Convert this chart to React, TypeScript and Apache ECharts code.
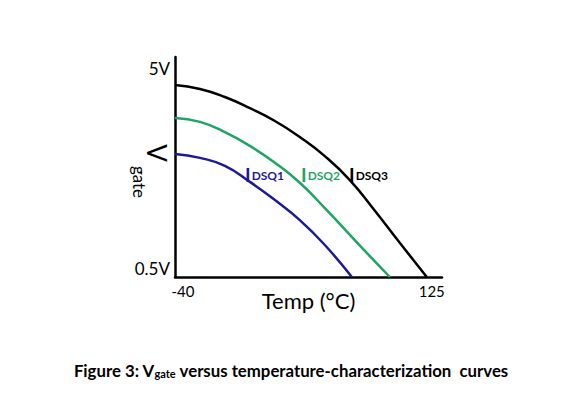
import React, { useEffect, useRef } from "react";
import * as echarts from "echarts";

// Temperature (°C) and gate voltage (V)
const tempsDSQ1 = [-40, -23.6, -7.3, 9.1, 25.5, 41.8, 58.2, 75.9];
const vgateDSQ1 = [3.27, 3.18, 3.0, 2.64, 2.23, 1.78, 1.22, 0.5];

const tempsDSQ2 = [-40, -23.6, -7.3, 9.1, 25.5, 41.8, 58.2, 74.6, 87.7, 100.8];
const vgateDSQ2 = [4.08, 3.99, 3.76, 3.45, 3.07, 2.62, 2.05, 1.45, 0.97, 0.5];

const tempsDSQ3 = [-40, -23.6, -7.3, 9.1, 25.5, 41.8, 58.2, 74.6, 91.0, 107.3, 125];
const vgateDSQ3 = [4.82, 4.73, 4.55, 4.3, 4.01, 3.65, 3.22, 2.68, 1.99, 1.27, 0.5];

const xTickValues = [-40, 125];
const yTickValues = [0.5, 5];

const seriesNames = ["DSQ1", "DSQ2", "DSQ3"];
const seriesColors = ["#1b1b96", "#1fa464", "#000000"];

const FONT = "Lato, 'Open Sans', sans-serif";

function pairs(xs: number[], ys: number[]) {
  return xs.map((x, i) => [x, ys[i]]);
}

export default function App() {
  const ref = useRef<HTMLDivElement>(null);

  useEffect(() => {
    if (!ref.current) return;
    const chart = echarts.init(ref.current, undefined, { renderer: "svg" });
    const datasets = [
      pairs(tempsDSQ1, vgateDSQ1),
      pairs(tempsDSQ2, vgateDSQ2),
      pairs(tempsDSQ3, vgateDSQ3),
    ];
    const labelPos = [
      [245, 174],
      [301, 174],
      [349, 174],
    ];
    chart.setOption({
      animation: false,
      backgroundColor: "#ffffff",
      grid: {
        left: 175,
        right: 131,
        top: 57,
        bottom: 121,
        containLabel: false,
        outerBoundsMode: "none",
      },
      xAxis: {
        type: "value",
        min: -40,
        max: 135,
        splitLine: { show: false },
        axisTick: { show: false },
        axisLine: { show: true, onZero: false, lineStyle: { color: "#000", width: 2.5 } },
        axisLabel: {
          customValues: xTickValues,
          margin: 6,
          color: "#000",
          fontFamily: FONT,
          fontSize: 15,
          formatter: (v: number) => (v === -40 ? "{l|" + v + "}" : "{r|" + v + "}"),
          rich: {
            l: { fontFamily: FONT, fontSize: 15, color: "#000", padding: [0, 0, 0, 16] },
            r: { fontFamily: FONT, fontSize: 15, color: "#000", padding: [0, 0, 0, 10] },
          },
        },
        name: "Temp (°C)",
        nameLocation: "middle",
        nameGap: 12,
        nameMoveOverlap: false,
        nameTextStyle: { color: "#000", fontFamily: FONT, fontSize: 22, verticalAlign: "top" },
      },
      yAxis: {
        type: "value",
        min: 0.5,
        max: 5.45,
        splitLine: { show: false },
        axisTick: { show: false },
        axisLine: { show: true, onZero: false, lineStyle: { color: "#000", width: 2.5 } },
        axisLabel: {
          customValues: yTickValues,
          margin: 5,
          color: "#000",
          fontFamily: FONT,
          fontSize: 17,
          verticalAlign: "bottom",
          formatter: (v: number) => v + "V",
        },
      },
      series: datasets.map((d, i) => ({
        type: "line",
        name: seriesNames[i],
        data: d,
        smooth: true,
        showSymbol: false,
        symbol: "none",
        lineStyle: { color: seriesColors[i], width: 2.5 },
        z: 3 - i,
      })),
      graphic: [
        {
          type: "text",
          x: 157,
          y: 153,
          rotation: -Math.PI / 2,
          style: {
            text: "V",
            fontFamily: FONT,
            fontSize: 26,
            fill: "#000",
            align: "center",
            verticalAlign: "middle",
          },
        },
        {
          type: "text",
          x: 139,
          y: 182,
          rotation: -Math.PI / 2,
          style: {
            text: "gate",
            fontFamily: FONT,
            fontSize: 17,
            fill: "#000",
            align: "center",
            verticalAlign: "middle",
          },
        },
        ...seriesNames.map((n, i) => ({
          type: "text",
          x: labelPos[i][0],
          y: labelPos[i][1],
          style: {
            text: "{a|I}{b|" + n + "}",
            align: "left",
            verticalAlign: "middle",
            rich: {
              a: {
                fontFamily: FONT,
                fontSize: 19,
                fontWeight: "bold",
                fill: seriesColors[i],
                verticalAlign: "bottom",
              },
              b: {
                fontFamily: FONT,
                fontSize: 12,
                fontWeight: "bold",
                fill: seriesColors[i],
                verticalAlign: "bottom",
                padding: [0, 0, 2, 1],
              },
            },
          },
        })),
        {
          type: "text",
          x: 291,
          y: 370,
          style: {
            text: "{a|Figure 3: V}{b|gate}{a| versus temperature-characterization  curves}",
            align: "center",
            verticalAlign: "middle",
            rich: {
              a: { fontFamily: FONT, fontSize: 16.8, fontWeight: "bold", fill: "#000", verticalAlign: "bottom" },
              b: { fontFamily: FONT, fontSize: 11, fontWeight: "bold", fill: "#000", verticalAlign: "bottom" },
            },
          },
        },
      ],
    });
    return () => chart.dispose();
  }, []);

  return (
    <div
      ref={ref}
      style={{ position: "fixed", left: 0, top: 0, width: 573, height: 398, background: "#fff" }}
    />
  );
}
